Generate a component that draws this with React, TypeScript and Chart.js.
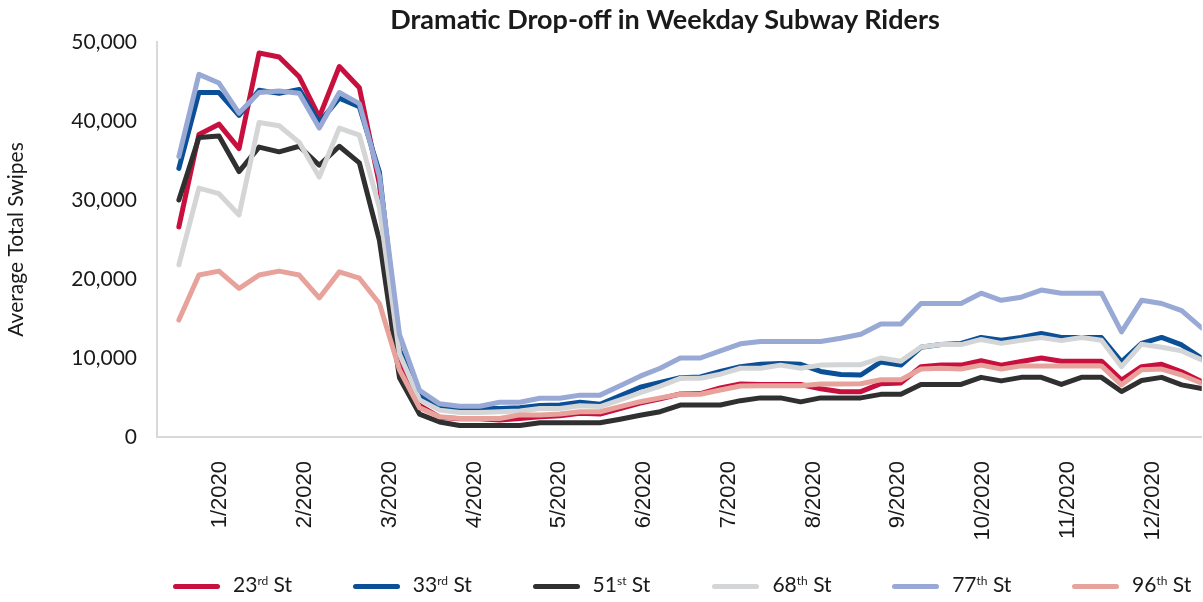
import React, { useEffect, useRef } from 'react';
import { Chart, registerables } from 'chart.js';

Chart.register(...registerables);

// Week index (0 = first week of 2020)
const weekIndex = [
  0, 1, 2, 3, 4, 5, 6, 7, 8, 9, 10, 11, 12, 13, 14, 15, 16, 17, 18, 19, 20, 21, 22, 23, 24, 25,
  26, 27, 28, 29, 30, 31, 32, 33, 34, 35, 36, 37, 38, 39, 40, 41, 42, 43, 44, 45, 46, 47, 48, 49, 50, 51,
];

const monthLabels = [
  '1/2020', '2/2020', '3/2020', '4/2020', '5/2020', '6/2020',
  '7/2020', '8/2020', '9/2020', '10/2020', '11/2020', '12/2020',
];
// month label positions, in week units
const monthTickPos = [2.07, 6.3, 10.52, 14.75, 18.97, 23.2, 27.42, 31.65, 35.87, 40.1, 44.32, 48.55];

const yTicks = [0, 10000, 20000, 30000, 40000, 50000];

const st23 = [
  26600, 38300, 39600, 36500, 48600, 48100, 45600, 40500, 46900, 44200, 32000, 9500, 4000,
  2500, 2300, 2300, 2150, 2350, 2550, 2700, 3000, 2900, 3600, 4300, 4850, 5450, 5500,
  6200, 6700, 6650, 6650, 6650, 6100, 5740, 5740, 6750, 6850, 8900, 9100, 9100, 9650,
  9100, 9550, 10000, 9600, 9600, 9600, 7200, 8900, 9200, 8250, 7000,
];
const st33 = [
  34000, 43600, 43600, 40700, 43900, 43500, 44000, 39800, 42900, 41800, 33500, 11000, 5200,
  3800, 3500, 3600, 3600, 3700, 4000, 4050, 4400, 4150, 5200, 6300, 6900, 7500, 7600,
  8300, 8900, 9200, 9300, 9200, 8300, 7900, 7850, 9500, 9100, 11350, 11700, 11850, 12600,
  12250, 12600, 13100, 12600, 12600, 12600, 9500, 11850, 12600, 11650, 9950,
];
const st51 = [
  30000, 37900, 38100, 33600, 36700, 36100, 36800, 34400, 36800, 34700, 24900, 7500, 2900,
  1900, 1450, 1450, 1450, 1450, 1800, 1800, 1800, 1800, 2250, 2750, 3200, 4050, 4050,
  4050, 4600, 4950, 4950, 4450, 4950, 4950, 4950, 5400, 5400, 6650, 6650, 6650, 7550,
  7100, 7550, 7550, 6650, 7550, 7550, 5750, 7150, 7550, 6600, 6150,
];
const st68 = [
  21800, 31500, 30800, 28100, 39800, 39400, 37300, 32900, 39100, 38200, 29000, 10500, 4700,
  3400, 3100, 3100, 3200, 3300, 3600, 3600, 3950, 3850, 4700, 5600, 6450, 7430, 7430,
  7950, 8700, 8700, 9100, 8700, 9100, 9150, 9150, 10000, 9600, 11400, 11700, 11700, 12350,
  11850, 12250, 12600, 12200, 12600, 12250, 8900, 11750, 11350, 10900, 9750,
];
const st77 = [
  35500, 45900, 44800, 41000, 43600, 43800, 43500, 39100, 43600, 42200, 33000, 13000, 5900,
  4200, 3900, 3900, 4400, 4400, 4900, 4900, 5300, 5300, 6500, 7700, 8700, 10000, 10000,
  10900, 11800, 12100, 12100, 12100, 12100, 12500, 13000, 14300, 14300, 16900, 16900, 16900, 18200,
  17300, 17700, 18600, 18200, 18200, 18200, 13300, 17300, 16900, 16000, 13800,
];
const st96 = [
  14800, 20500, 21000, 18800, 20500, 21000, 20500, 17600, 20900, 20100, 16900, 8500, 3700,
  2550, 2350, 2350, 2350, 2800, 2800, 2900, 3200, 3200, 3850, 4470, 4950, 5420, 5420,
  5950, 6460, 6500, 6500, 6500, 6700, 6700, 6750, 7250, 7250, 8600, 8700, 8600, 9100,
  8600, 9000, 9000, 9000, 9000, 9000, 6600, 8500, 8600, 7850, 6800,
];

const seriesNames = ['23rd St', '33rd St', '51st St', '68th St', '77th St', '96th St'];
const legendNums = ['23', '33', '51', '68', '77', '96'];
const legendSups = ['rd', 'rd', 'st', 'th', 'th', 'th'];
const seriesValues = [st23, st33, st51, st68, st77, st96];
const seriesColors = ['#C8103E', '#0B4F96', '#303030', '#D4D5D6', '#98A9D5', '#E8A29C'];

const TEXT = '#1a1a1a';

export default function App() {
  const canvasRef = useRef<HTMLCanvasElement | null>(null);

  useEffect(() => {
    const canvas = canvasRef.current;
    if (!canvas) return;
    const datasets = seriesValues.map((vals, i) => ({
      label: seriesNames[i],
      data: weekIndex.map((w, j) => ({ x: w, y: vals[j] })),
      borderColor: seriesColors[i],
      backgroundColor: seriesColors[i],
      borderWidth: 5,
      pointRadius: 0,
      tension: 0,
      borderJoinStyle: 'round' as const,
      borderCapStyle: 'round' as const,
      fill: false,
      order: seriesValues.length - i,
    }));

    const chart = new Chart(canvas, {
      type: 'line',
      data: { datasets },
      options: {
        responsive: false,
        animation: false,
        layout: { padding: { top: 42, left: 0, right: 0, bottom: 0 } },
        plugins: {
          legend: { display: false },
          title: { display: false },
          tooltip: { enabled: false },
        },
        scales: {
          x: {
            type: 'linear',
            min: -1.09,
            max: 51,
            grid: { display: false, drawTicks: false },
            border: { display: true, color: '#D9D9D9', width: 2 },
            afterBuildTicks: (s: any) => {
              s.ticks = monthTickPos.map((v) => ({ value: v }));
            },
            afterFit: (s: any) => {
              s.height = 165;
            },
            ticks: {
              autoSkip: false,
              maxRotation: 90,
              minRotation: 90,
              padding: 24,
              color: TEXT,
              font: { family: '"Liberation Sans", Arial, sans-serif', size: 22 },
              callback: (_v: any, i: number) => monthLabels[i],
            },
          },
          y: {
            type: 'linear',
            min: 0,
            max: 50000,
            grid: { display: false, drawTicks: false },
            border: { display: true, color: '#D9D9D9', width: 2 },
            afterBuildTicks: (s: any) => {
              s.ticks = yTicks.map((v) => ({ value: v }));
            },
            afterFit: (s: any) => {
              s.width = 157;
            },
            ticks: {
              padding: 20,
              color: TEXT,
              font: { family: 'Lato, sans-serif', size: 21 },
              callback: (v: any) => Number(v).toLocaleString('en-US'),
            },
            title: {
              display: true,
              text: 'Average Total Swipes',
              color: TEXT,
              font: { family: 'Lato, sans-serif', size: 21 },
              padding: { top: 4, bottom: 0 },
            },
          },
        },
      },
    });
    return () => chart.destroy();
  }, []);

  return (
    <div
      style={{
        position: 'fixed',
        left: 0,
        top: 0,
        width: 1203,
        height: 602,
        background: '#ffffff',
        overflow: 'hidden',
      }}
    >
      <canvas ref={canvasRef} width={1203} height={602} style={{ position: 'absolute', left: 0, top: 0 }} />
      <div
        style={{
          position: 'absolute',
          left: 665,
          top: 18,
          transform: 'translate(-50%, -50%)',
          whiteSpace: 'nowrap',
          fontFamily: 'Lato, sans-serif',
          fontWeight: 700,
          fontSize: 27,
          color: TEXT,
        }}
      >
        Dramatic Drop-off in Weekday Subway Riders
      </div>
      {seriesNames.map((name, i) => (
        <div
          key={name}
          style={{
            position: 'absolute',
            left: 173 + 179.8 * i,
            top: 586,
            transform: 'translateY(-50%)',
            display: 'flex',
            alignItems: 'center',
            whiteSpace: 'nowrap',
          }}
        >
          <span
            style={{
              display: 'inline-block',
              width: 47,
              height: 5,
              borderRadius: 3,
              background: seriesColors[i],
              marginRight: 13,
            }}
          />
          <span style={{ fontFamily: 'Lato, sans-serif', fontSize: 21, color: TEXT, lineHeight: '24px' }}>
            {legendNums[i]}
            <sup style={{ fontSize: 12, verticalAlign: 0, position: 'relative', top: -7 }}>{legendSups[i]}</sup>
            {' St'}
          </span>
        </div>
      ))}
    </div>
  );
}
